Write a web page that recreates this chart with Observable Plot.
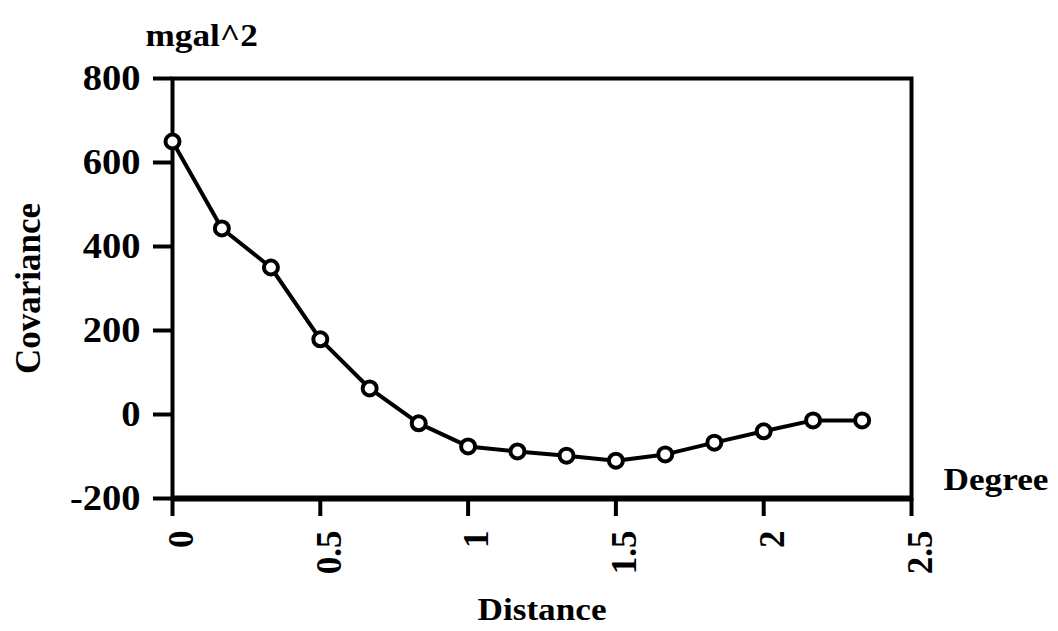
<!DOCTYPE html>
<html>
<head>
<meta charset="utf-8">
<script src="https://cdn.jsdelivr.net/npm/d3@7"></script>
<script src="https://cdn.jsdelivr.net/npm/@observablehq/plot@0.6"></script>
<style>
  html, body { margin: 0; padding: 0; background: #fff; }
  #chart svg { display: block; }
</style>
</head>
<body>
<div id="chart"></div>
<script>
const distance = [0, 0.167, 0.333, 0.5, 0.667, 0.833, 1.0, 1.167, 1.333, 1.5, 1.667, 1.833, 2.0, 2.167, 2.333];
const covariance = [650, 443, 350, 179, 62, -21, -76, -88, -98, -110, -95, -67, -40, -14, -14];
const xTicks = [0, 0.5, 1, 1.5, 2, 2.5];
const yTicks = [-200, 0, 200, 400, 600, 800];
const xLabel = "Distance";
const yLabel = "Covariance";
const yUnit = "mgal^2";
const xUnit = "Degree";

const data = distance.map((d, i) => ({x: d, y: covariance[i]}));
const font = "'Liberation Serif', 'Times New Roman', serif";

const chart = Plot.plot({
  width: 1058,
  height: 631,
  marginTop: 78,
  marginBottom: 133,
  marginLeft: 172,
  marginRight: 147,
  style: {fontFamily: font, fontWeight: "bold", fontSize: "34px", color: "#000", background: "#fff"},
  x: {domain: [0, 2.5]},
  y: {domain: [-200, 800]},
  marks: [
    Plot.frame({stroke: "#000", strokeWidth: 4}),
    Plot.ruleY([-200], {stroke: "#000", strokeWidth: 6}),
    Plot.axisY({ticks: yTicks, tickSize: 19, tickPadding: 13, strokeWidth: 4, fontSize: 35, fontWeight: "bold",
      tickFormat: d => String(d), label: null}),
    Plot.axisX({ticks: xTicks, tickSize: 18, strokeWidth: 4, tickFormat: () => "", label: null}),
    Plot.axisX({ticks: xTicks, tickSize: 0, tickRotate: -90, tickPadding: 32, dx: 9, fontSize: 35, fontWeight: "bold",
      tickFormat: d => String(d), label: null}),
    Plot.line(data, {x: "x", y: "y", stroke: "#000", strokeWidth: 4}),
    Plot.dot(data, {x: "x", y: "y", r: 7, fill: "#fff", stroke: "#000", strokeWidth: 4}),
    Plot.text([yUnit], {frameAnchor: "top-left", dx: -27, dy: -55, textAnchor: "start", fontSize: 32, fontWeight: "bold"}),
    Plot.text([xUnit], {frameAnchor: "bottom-right", dx: 32, dy: -9, textAnchor: "start", fontSize: 32, fontWeight: "bold"}),
    Plot.text([yLabel], {frameAnchor: "left", dx: -144, rotate: -90, textAnchor: "middle", fontSize: 35, fontWeight: "bold"}),
    Plot.text([xLabel], {frameAnchor: "bottom", dy: 121, fontSize: 32, fontWeight: "bold"})
  ]
});
document.getElementById("chart").appendChild(chart);

// The reference's lettering is horizontally widened; stretch horizontal texts to match.
const svg = d3.select(chart);
function stretchTo(sel, k) {
  sel.each(function() {
    const w = this.getComputedTextLength();
    if (w > 0) {
      this.setAttribute("textLength", (w * k).toFixed(1));
      this.setAttribute("lengthAdjust", "spacingAndGlyphs");
    }
  });
}
stretchTo(svg.selectAll('g[aria-label="y-axis tick label"] text'), 1.1);
stretchTo(svg.selectAll("text").filter(function() {
  return [yUnit, xUnit, xLabel].includes(this.textContent);
}), 1.1);
</script>
</body>
</html>
